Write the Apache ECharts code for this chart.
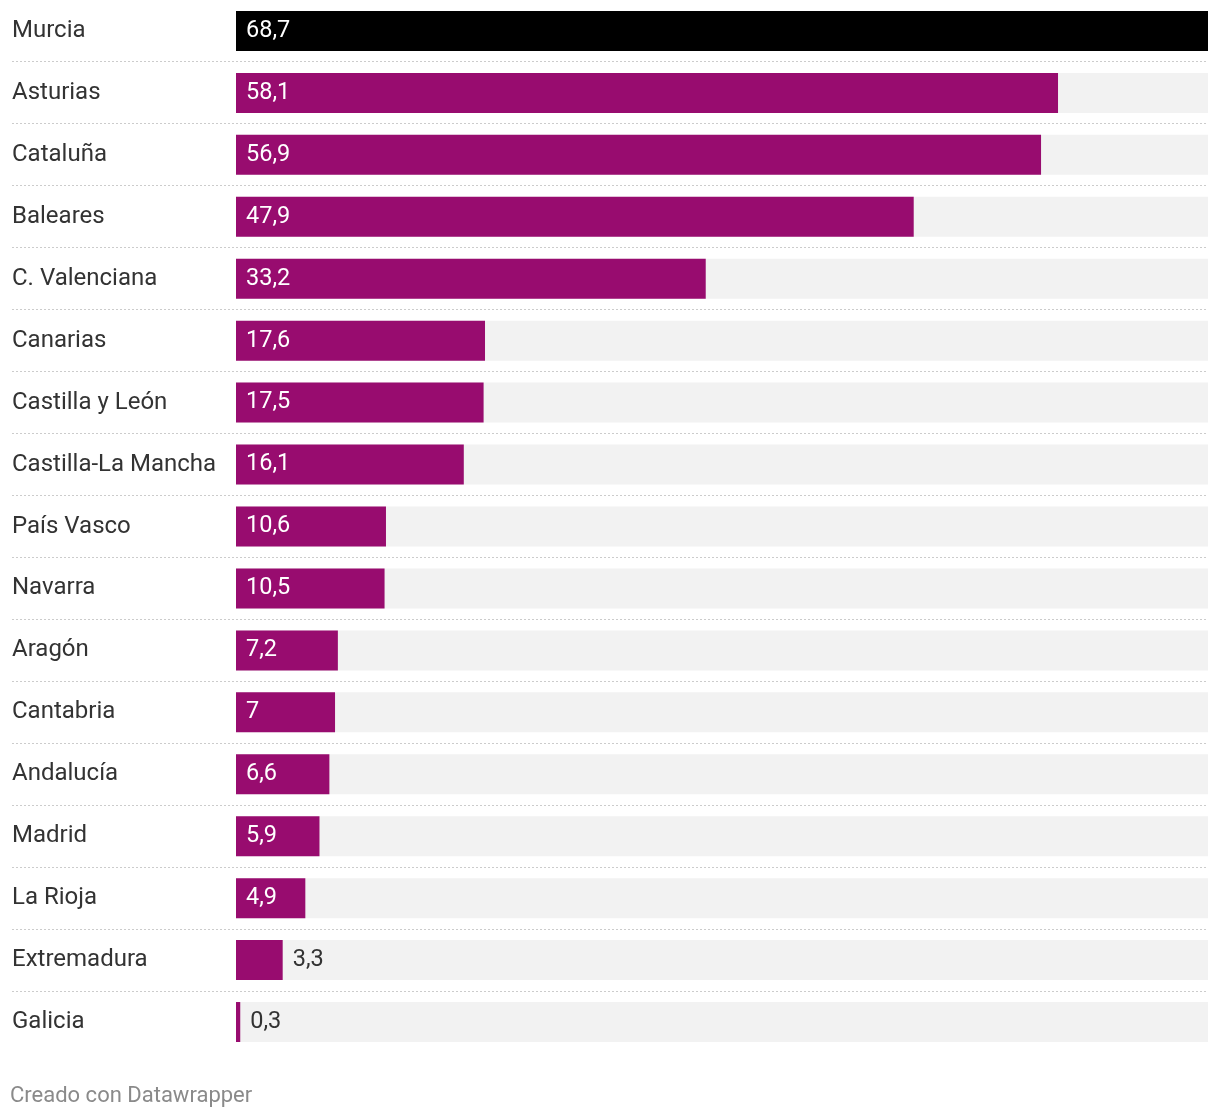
<!DOCTYPE html>
<html>
<head>
<meta charset="utf-8">
<script src="https://cdn.jsdelivr.net/npm/echarts@6/dist/echarts.min.js"></script>
<style>
html,body{margin:0;padding:0;background:#fff;}
#chart{width:1220px;height:1118px;}
</style>
</head>
<body>
<div id="chart"></div>
<script>
const categories = ["Murcia","Asturias","Cataluña","Baleares","C. Valenciana","Canarias","Castilla y León","Castilla-La Mancha","País Vasco","Navarra","Aragón","Cantabria","Andalucía","Madrid","La Rioja","Extremadura","Galicia"];
const values = [68.7,58.1,56.9,47.9,33.2,17.6,17.5,16.1,10.6,10.5,7.2,7,6.6,5.9,4.9,3.3,0.3];
const highlight = ["Murcia"];
const footer = "Creado con Datawrapper";

const FONT = "Roboto";
const PURPLE = "#980c6f";
const fmt = v => String(v).replace('.', ',');

const data = values.map((v, i) => {
  const outside = v < 4;
  return {
    value: v,
    itemStyle: { color: highlight.includes(categories[i]) ? "#000000" : PURPLE },
    label: outside
      ? { position: "right", distance: 10, color: "#333333" }
      : { position: "insideLeft", distance: 10, color: "#ffffff" }
  };
});

const chart = echarts.init(document.getElementById('chart'), null, {renderer: 'canvas'});
chart.setOption({
  animation: false,
  backgroundColor: "#ffffff",
  textStyle: { fontFamily: FONT },
  grid: [
    { left: 236, right: 12, top: -1, height: 1054, containLabel: false },
    { left: 12, right: 12, top: 61, height: 930, containLabel: false }
  ],
  xAxis: [
    { gridIndex: 0, type: "value", min: 0, max: 68.7, show: false },
    { gridIndex: 1, type: "value", min: 0, max: 1, show: false }
  ],
  yAxis: [
    {
      gridIndex: 0, type: "category", data: categories, inverse: true,
      axisLine: { show: false }, axisTick: { show: false }, splitLine: { show: false },
      axisLabel: { align: "left", margin: 224, fontSize: 24, color: "#333333", fontFamily: FONT, padding: [9, 0, 0, 0] }
    },
    {
      gridIndex: 1, type: "value", min: 1, max: 16, interval: 1, inverse: true,
      axisLine: { show: false }, axisTick: { show: false }, axisLabel: { show: false },
      splitLine: { show: true, lineStyle: { color: "#cccccc", width: 1, type: [2, 2] } }
    }
  ],
  series: [
    {
      type: "bar", xAxisIndex: 0, yAxisIndex: 0,
      data: data, barWidth: 40,
      showBackground: true,
      backgroundStyle: { color: "#f2f2f2" },
      label: {
        show: true, fontSize: 23.5, fontFamily: FONT, padding: [9, 0, 0, 0],
        formatter: p => fmt(p.value)
      }
    }
  ],
  graphic: [
    {
      type: "text", left: 10, top: 1085,
      style: { text: footer, font: "22px Roboto", fill: "#8a8a8a" }
    }
  ]
});
</script>
</body>
</html>
